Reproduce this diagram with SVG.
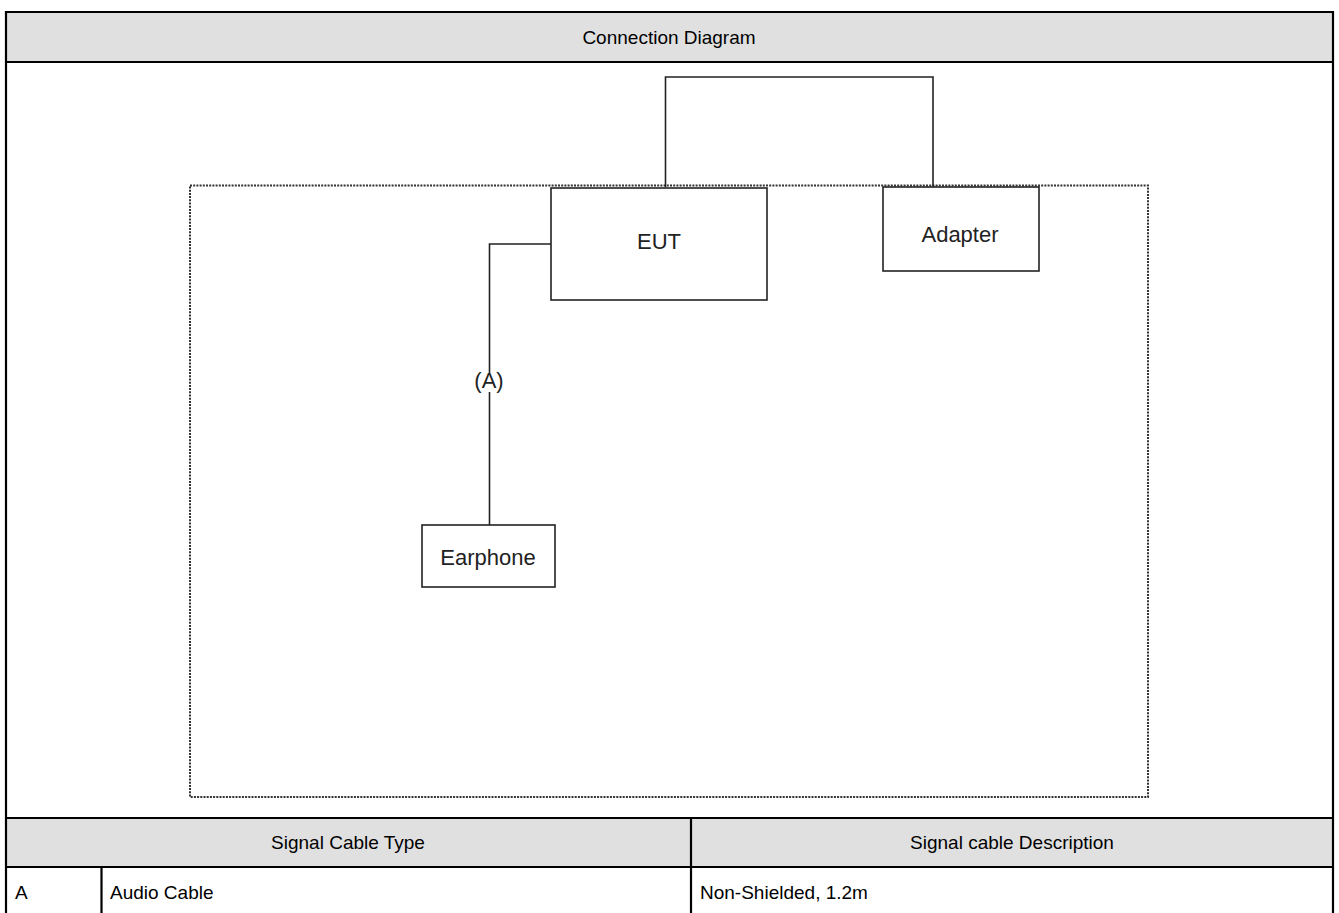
<svg xmlns="http://www.w3.org/2000/svg" width="1339" height="913" viewBox="0 0 1339 913">
<style>
.t{font-family:"Liberation Sans",Arial,sans-serif;font-size:19px;fill:#000}
.n{font-family:"Liberation Sans",Arial,sans-serif;font-size:22px;fill:#222}
.box{fill:#fff;stroke:#222;stroke-width:1.6}
.grid{stroke:#000;stroke-width:2.2;fill:none}
.hdr{fill:#e0e0e0}
.wire{stroke:#222;stroke-width:1.6;fill:none}
</style>
<g id="table">
<rect class="hdr" x="6" y="12" width="1327" height="50"/>
<rect class="hdr" x="6" y="818" width="1327" height="49"/>
<path class="grid" d="M6 12H1333M6 62H1333M6 818H1333M6 867H1333M6 11V913M1333 11V913M691 818V913M101.5 867V913"/>
<text class="t" x="669" y="44" text-anchor="middle">Connection Diagram</text>
<text class="t" x="348" y="849" text-anchor="middle">Signal Cable Type</text>
<text class="t" x="1012" y="849" text-anchor="middle">Signal cable Description</text>
<text class="t" x="15" y="899">A</text>
<text class="t" x="110" y="899">Audio Cable</text>
<text class="t" x="700" y="899">Non-Shielded, 1.2m</text>
</g>
<g id="boundary">
<rect x="190" y="185.5" width="958" height="611.5" fill="none" stroke="#333" stroke-width="2" stroke-dasharray="2 1.2"/>
</g>
<g id="connectors">
<path class="wire" d="M665.5 187V77H933V187"/>
<path class="wire" d="M551 244H489.5V373M489.5 392V525"/>
<text class="n" x="489" y="388" text-anchor="middle" font-size="20">(A)</text>
</g>
<g id="eut">
<rect class="box" x="551" y="188" width="216" height="112"/>
<text class="n" x="659" y="249" text-anchor="middle">EUT</text>
</g>
<g id="adapter">
<rect class="box" x="883" y="187" width="156" height="84"/>
<text class="n" x="960" y="242" text-anchor="middle">Adapter</text>
</g>
<g id="earphone">
<rect class="box" x="422" y="525" width="133" height="62"/>
<text class="n" x="488" y="565" text-anchor="middle" font-size="21">Earphone</text>
</g>
</svg>
